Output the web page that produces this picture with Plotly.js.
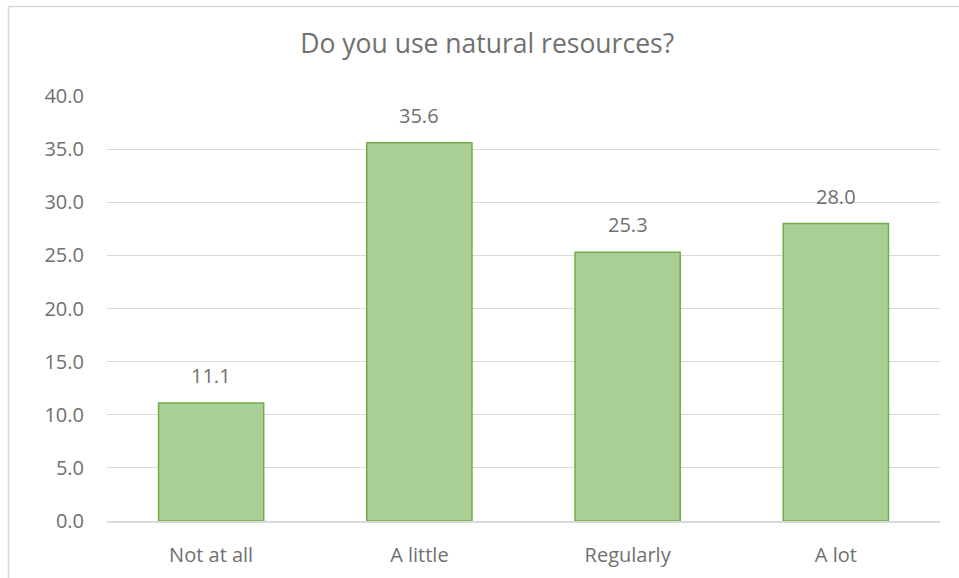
<!DOCTYPE html>
<html>
<head>
<meta charset="utf-8">
<script src="https://cdn.plot.ly/plotly-3.0.1.min.js"></script>
<style>html,body{margin:0;padding:0;background:#fff;}#chart{width:959px;height:578px;}</style>
</head>
<body>
<div id="chart"></div>
<script>
const categories = ["Not at all", "A little", "Regularly", "A lot"];
const values = [11.1, 35.6, 25.3, 28.0];
const yTicks = [0, 5, 10, 15, 20, 25, 30, 35, 40];
const titleText = "Do you use natural resources?";

const textColor = "#707070";
const font = "'Open Sans', 'DejaVu Sans', sans-serif";

const trace = {
  type: "bar",
  x: categories,
  y: values,
  marker: {color: "#a9cf96", line: {color: "#70ad47", width: 1.5}},
  hoverinfo: "none"
};

const annotations = categories.map((c, i) => ({
  x: c, y: values[i], xref: "x", yref: "y",
  text: values[i].toFixed(1), showarrow: false,
  yanchor: "bottom", yshift: 12,
  font: {family: font, size: 20, color: textColor}
}));

const layout = {
  width: 959, height: 578,
  margin: {l: 107, r: 19, t: 96, b: 57},
  paper_bgcolor: "#ffffff", plot_bgcolor: "#ffffff",
  title: {text: titleText, x: 0.508, xref: "container", y: 0.924, yref: "container",
          xanchor: "center", yanchor: "middle",
          font: {family: font, size: 26.5, color: textColor}},
  bargap: 0.495,
  showlegend: false,
  xaxis: {
    showgrid: false, showline: true, linecolor: "#d9d9d9", linewidth: 1.5,
    ticks: "", ticklabelstandoff: 15,
    tickfont: {family: font, size: 20, color: textColor}
  },
  yaxis: {
    range: [0, 40], tickvals: yTicks, ticktext: yTicks.map(v => v.toFixed(1)),
    showgrid: true, gridcolor: "#d9d9d9", gridwidth: 1,
    zeroline: false, showline: false, ticks: "", ticklabelstandoff: 22,
    tickfont: {family: font, size: 20, color: textColor}
  },
  annotations: annotations,
  shapes: [{
    type: "rect", xref: "paper", yref: "paper",
    x0: -0.1182, x1: 1.1, y0: -0.3, y1: 1.2106,
    line: {color: "#d9d9d9", width: 1.5}, fillcolor: "rgba(0,0,0,0)", layer: "below"
  }]
};

Plotly.newPlot("chart", [trace], layout, {displayModeBar: false, staticPlot: true});
</script>
</body>
</html>
